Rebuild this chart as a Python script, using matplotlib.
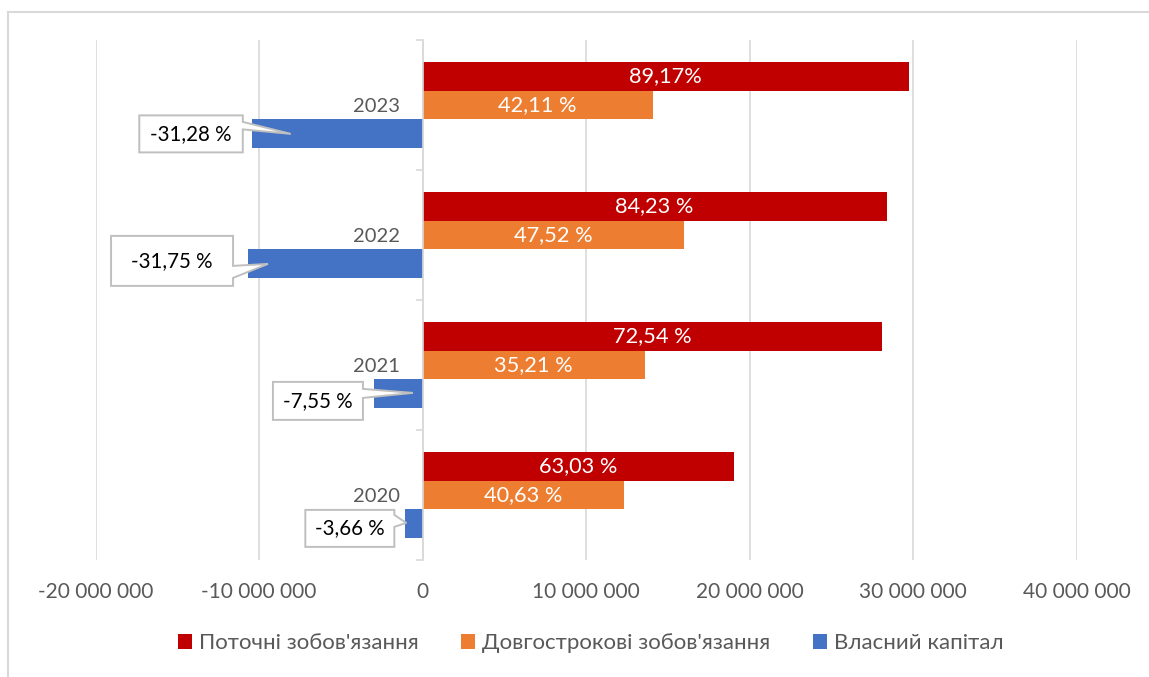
import numpy as np
import matplotlib
matplotlib.use('Agg')
import matplotlib.pyplot as plt
from matplotlib.path import Path
from matplotlib.patches import PathPatch
from matplotlib.lines import Line2D
from matplotlib.transforms import Affine2D, ScaledTranslation
from matplotlib.ticker import FuncFormatter, FixedLocator

plt.rcParams['font.family'] = ['Lato', 'Open Sans', 'DejaVu Sans']

# Balance-sheet structure, UAH
years = ['2020', '2021', '2022', '2023']
current_liab = [19.05e6, 28.10e6, 28.40e6, 29.76e6]
long_term_liab = [12.32e6, 13.60e6, 15.99e6, 14.08e6]
equity = [-1.05e6, -2.97e6, -10.67e6, -10.41e6]

current_labels = ['63,03 %', '72,54 %', '84,23 %', '89,17%']
long_term_labels = ['40,63 %', '35,21 %', '47,52 %', '42,11 %']
equity_labels = ['-3,66 %', '-7,55 %', '-31,75 %', '-31,28 %']

series_names = ["Поточні зобов'язання", "Довгострокові зобов'язання", "Власний капітал"]
colors = ['#C00000', '#ED7D31', '#4472C4']

# callout boxes for equity labels: (left, right, top, bottom, notch_top, notch_bottom, tip_x, tip_y)
# pixel offsets from the bar end, y pointing down
callouts = [
    (-100, -11, -14, 23, -9, 3, 1, -1),
    (-101, -11, -12, 26, -5, 4, 39, -1),
    (-137, -15, -28, 22, 2, 14, 20, 0),
    (-113, -9.5, -18.5, 18.5, -12, -4.5, 38.5, 0),
]

W, H, DPI = 1149, 677, 100
fig = plt.figure(figsize=(W / DPI, H / DPI), dpi=DPI)
ax = fig.add_axes([95.5 / W, (H - 560) / H, (1076.5 - 95.5) / W, 520 / H])

grey_text = '#595959'
grid_c = '#D9D9D9'
fs_tick = 15
fs_bar = 15.7
fs_call = 14.8
fs_leg = 16

y = np.arange(len(years))
bh = 0.2222
ax.barh(y + bh, current_liab, height=bh, color=colors[0], label=series_names[0], zorder=2)
ax.barh(y, long_term_liab, height=bh, color=colors[1], label=series_names[1], zorder=2)
ax.barh(y - bh, equity, height=bh, color=colors[2], label=series_names[2], zorder=2)

ax.set_xlim(-20e6, 40e6)
ax.set_ylim(-0.5, len(years) - 0.5)

# value labels inside the liability bars
for i in range(len(years)):
    ax.text(current_liab[i] / 2, y[i] + bh, current_labels[i], ha='center', va='center',
            color='white', fontsize=fs_bar, zorder=4)
    ax.text(long_term_liab[i] / 2, y[i], long_term_labels[i], ha='center', va='center',
            color='white', fontsize=fs_bar, zorder=4)

# callout labels for equity
for i in range(len(years)):
    L, R, T, B, n1, n2, tx, ty = callouts[i]
    verts = [(L, T), (R, T), (R, n1), (tx, ty), (R, n2), (R, B), (L, B), (L, T)]
    codes = [Path.MOVETO] + [Path.LINETO] * 6 + [Path.CLOSEPOLY]
    trans = Affine2D().scale(1, -1) + ScaledTranslation(equity[i], y[i] - bh, ax.transData)
    patch = PathPatch(Path(verts, codes), facecolor='white', edgecolor='#BFBFBF',
                      linewidth=1.4, transform=trans, zorder=5, clip_on=False)
    ax.add_patch(patch)
    ax.annotate(equity_labels[i], xy=(equity[i], y[i] - bh),
                xytext=((L + R) / 2, -(T + B) / 2), textcoords='offset pixels',
                ha='center', va='center', fontsize=fs_call, color='#000000', zorder=6)

# axes styling
for s in ['top', 'right', 'bottom']:
    ax.spines[s].set_visible(False)
ax.spines['left'].set_position(('data', 0))
ax.spines['left'].set_color(grid_c)
ax.spines['left'].set_linewidth(1.2)
ax.spines['left'].set_zorder(3)

ax.xaxis.set_major_locator(FixedLocator(np.arange(-20e6, 40e6 + 1, 10e6)))
ax.xaxis.set_major_formatter(FuncFormatter(lambda v, p: f'{int(v):,}'.replace(',', ' ')))
ax.tick_params(axis='x', length=0, pad=16, labelsize=fs_tick, labelcolor=grey_text)
ax.grid(axis='x', color=grid_c, linewidth=1.2, zorder=0)
ax.set_axisbelow(True)

ax.set_yticks(y)
ax.set_yticklabels(years)
ax.set_yticks(np.arange(-0.5, len(years)), minor=True)
ax.tick_params(axis='y', which='major', length=0, pad=16, labelsize=14.5, labelcolor=grey_text)
ax.tick_params(axis='y', which='minor', length=5, width=1.2, color=grid_c, direction='out')

# legend
leg = fig.legend(loc='center', bbox_to_anchor=(0.514, 34 / H), ncol=3, frameon=False,
                 fontsize=fs_leg, handlelength=0.65, handleheight=0.65, handletextpad=0.3,
                 columnspacing=1.9)
for t in leg.get_texts():
    t.set_color(grey_text)

# outer chart frame
fig.add_artist(Line2D([7.5 / W, 1.0], [1 - 11.5 / H] * 2, transform=fig.transFigure,
                      color=grid_c, linewidth=1.5))
fig.add_artist(Line2D([7.5 / W] * 2, [0, 1 - 11.5 / H], transform=fig.transFigure,
                      color=grid_c, linewidth=1.5))

fig.savefig('out.png', dpi=DPI, facecolor='white')
